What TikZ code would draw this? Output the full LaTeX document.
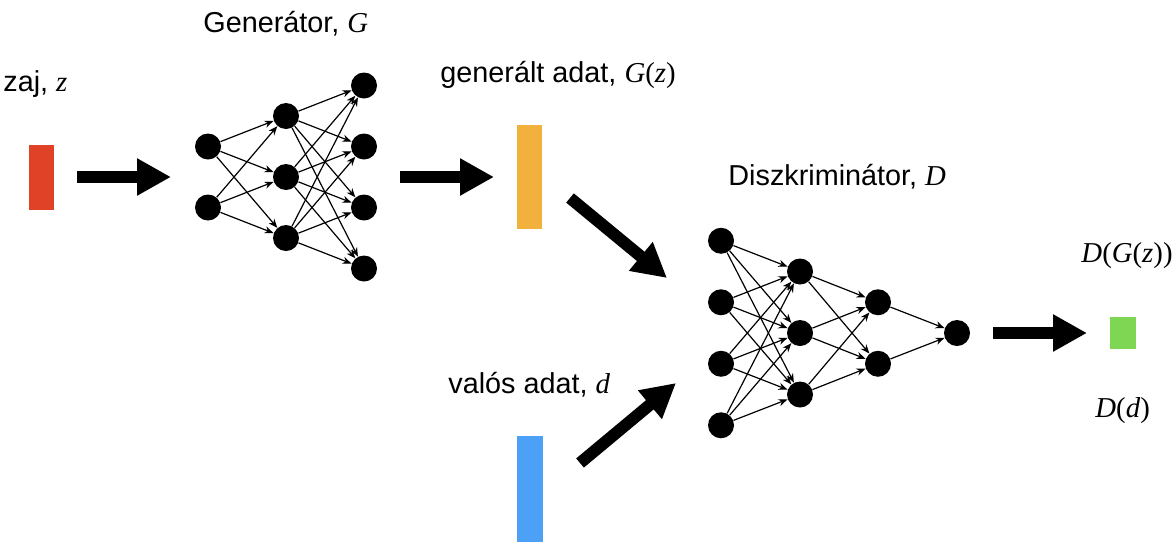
\documentclass[tikz,border=0pt]{standalone}
\usepackage{fontspec}
\setmainfont{Liberation Sans}
\newfontfamily\serifmath{Liberation Serif}
\usetikzlibrary{arrows.meta}

\definecolor{noisered}{RGB}{224,66,40}
\definecolor{fakeorange}{RGB}{242,177,60}
\definecolor{realblue}{RGB}{76,161,246}
\definecolor{outgreen}{RGB}{126,214,82}

\newcommand{\mv}[1]{{\serifmath\itshape #1}}

\begin{document}
\begin{tikzpicture}[x=0.5pt, y=-0.5pt, >=Stealth,
    neuron/.style={circle, fill=black, minimum size=13pt, inner sep=0pt},
    synapse/.style={line width=0.6pt, -{Stealth[length=4.5pt,width=3.6pt]}},
    bigarrow/.style={line width=6pt, -{Triangle[length=17pt,width=17.5pt]}},
    databar/.style={inner sep=0pt, minimum width=12.7pt},
    txt/.style={inner sep=0pt, font=\fontsize{14.4}{16}\selectfont}]

    \useasboundingbox (0,0) rectangle (1176,541);

    % ====== Layer spacing ======
    \def\gMid{177}   % vertical centre of G
    \def\dMid{333}   % vertical centre of D
    \def\gStep{61}
    \def\dStep{61.5}

    % ===== Generator, G =====
    \foreach \l/\n/\x in {1/2/208, 2/3/286, 3/4/364} {
        \foreach \i in {1,...,\n} {
            \node[neuron] (g\l-\i) at (\x,{\gMid+(\i-(\n+1)/2)*\gStep}) {};
        }
    }
    \foreach \l/\n/\k/\m in {1/2/2/3, 2/3/3/4} {
        \foreach \i in {1,...,\n} {
            \foreach \j in {1,...,\m} {
                \draw[synapse] (g\l-\i) -- (g\k-\j);
            }
        }
    }

    % ===== Discriminator, D =====
    \foreach \l/\n/\x in {1/4/721, 2/3/800, 3/2/878, 4/1/957} {
        \foreach \i in {1,...,\n} {
            \node[neuron] (d\l-\i) at (\x,{\dMid+(\i-(\n+1)/2)*\dStep}) {};
        }
    }
    \foreach \l/\n/\k/\m in {1/4/2/3, 2/3/3/2, 3/2/4/1} {
        \foreach \i in {1,...,\n} {
            \foreach \j in {1,...,\m} {
                \draw[synapse] (d\l-\i) -- (d\k-\j);
            }
        }
    }

    % ===== Data bars =====
    \node[databar, fill=noisered, minimum height=32.5pt] (noise) at (41.5,177.5) {};
    \node[databar, fill=fakeorange, minimum height=52pt] (fake) at (529.5,177) {};
    \node[databar, fill=realblue, minimum height=62pt] (real) at (530,498) {};
    \node[databar, fill=outgreen, minimum width=13pt, minimum height=16pt] (score) at (1123,333) {};

    % ===== Big arrows =====
    \coordinate (noise-out) at (77,177);
    \coordinate (gen-in) at (171,177);
    \coordinate (gen-out) at (400,177);
    \coordinate (fake-in) at (494,177);
    \coordinate (fake-out) at (570,198);
    \coordinate (disc-in1) at (667,278);
    \coordinate (real-out) at (580,463);
    \coordinate (disc-in2) at (676,383);
    \coordinate (disc-out) at (993,333);
    \coordinate (score-in) at (1087,333);

    \draw[bigarrow] (noise-out) -- (gen-in);
    \draw[bigarrow] (gen-out) -- (fake-in);
    \draw[bigarrow] (fake-out) -- (disc-in1);
    \draw[bigarrow] (real-out) -- (disc-in2);
    \draw[bigarrow] (disc-out) -- (score-in);

    % ===== Labels =====
    \node[txt, anchor=base west] (noise-lbl) at (3,91) {zaj, \mv{z}};
    \node[txt, anchor=base west] (gen-lbl) at (203,32) {Generátor, \mv{G}};
    \node[txt, anchor=base west] (fake-lbl) at (440,82) {generált adat, \mv{G}{\serifmath(}\mv{z}{\serifmath)}};
    \node[txt, anchor=base west] (disc-lbl) at (728,185) {Diszkriminátor, \mv{D}};
    \node[txt, anchor=base west] (real-lbl) at (448,393) {valós adat, \mv{d}};
    \node[txt, anchor=base east] (fake-score) at (1173,262) {\serifmath\textit{D}(\textit{G}(\textit{z}))};
    \node[txt, anchor=base west] (real-score) at (1095,417) {\serifmath\textit{D}(\textit{d})};

\end{tikzpicture}
\end{document}
